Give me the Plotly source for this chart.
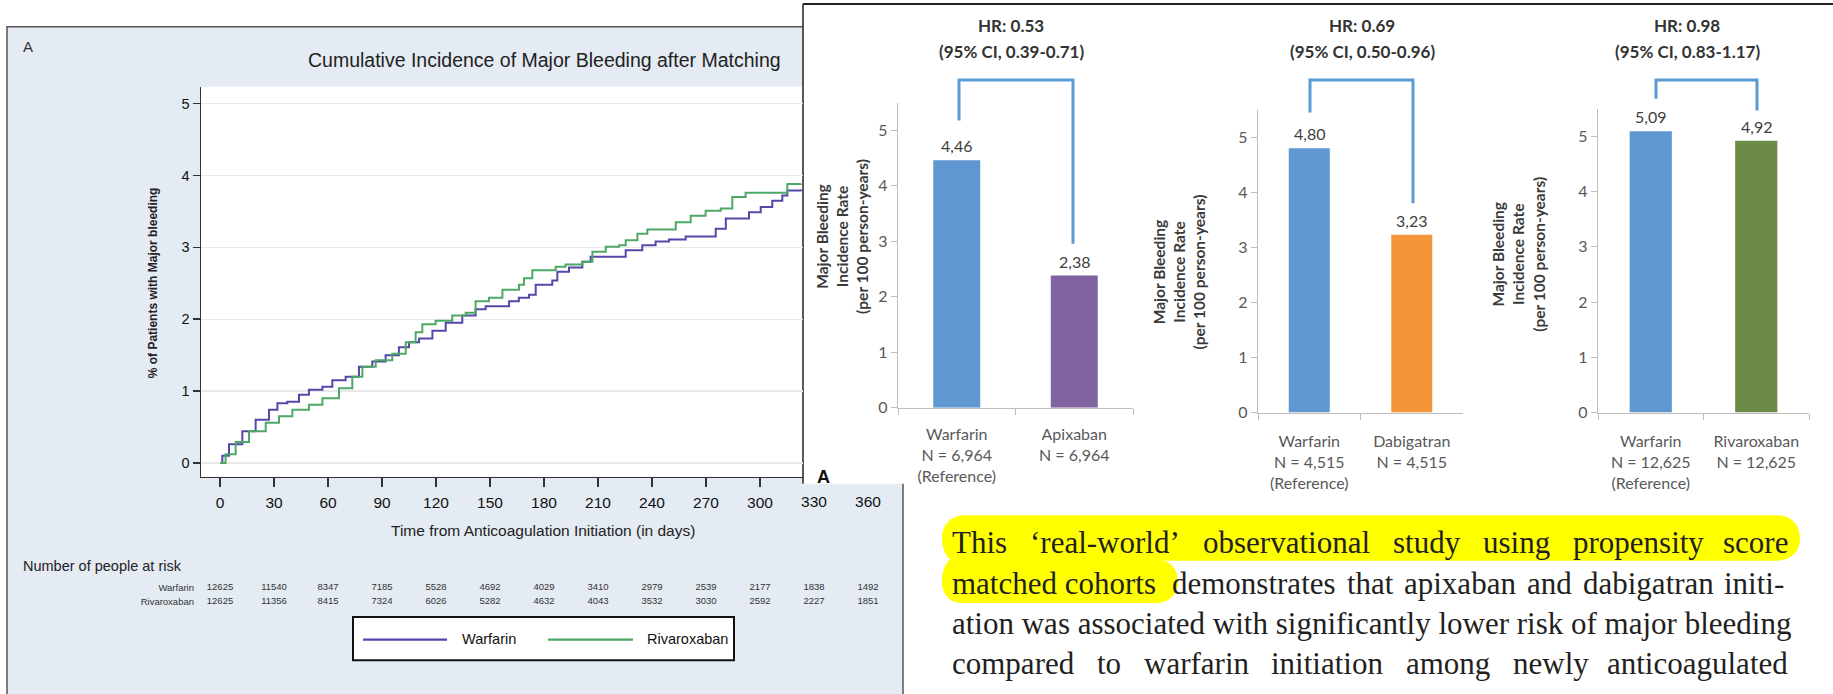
import plotly.graph_objects as go

W, H = 1833, 694
def PX(x): return x / W
def PY(y): return 1 - y / H

# ---------------- data ----------------
km_names = ["Warfarin", "Rivaroxaban"]
war_days = [0, 1.3, 5, 12.4, 19.8, 27.2, 31.9, 37.4, 43.9, 49.4, 56.9, 62.4, 69.8, 77.2, 84.6, 92, 99.4, 105,
            110.6, 118, 125.4, 134.6, 142, 147.6, 160.6, 166, 171.7, 175.4, 184.6, 187.4, 193.9, 201.3, 205.9,
            225.4, 234.6, 242, 249.4, 258.7, 275.4, 281, 293.9, 300.4, 306.8, 312.4, 315.2, 322.6]
war_pct = [0, 0.10, 0.26, 0.44, 0.60, 0.74, 0.83, 0.85, 0.95, 1.02, 1.06, 1.15, 1.20, 1.34, 1.41, 1.50, 1.61, 1.68,
           1.73, 1.84, 1.95, 2.05, 2.14, 2.18, 2.25, 2.30, 2.34, 2.48, 2.54, 2.66, 2.72, 2.80, 2.87,
           2.96, 3.03, 3.08, 3.11, 3.15, 3.26, 3.40, 3.49, 3.56, 3.65, 3.72, 3.79, 3.81]
riv_days = [0, 3.1, 8.7, 16.1, 25.4, 32.8, 40.2, 49.4, 56.9, 66.1, 73.5, 79.1, 86.5, 95.7, 103.2, 108.7, 112.4,
            119.8, 129, 136.5, 142, 149.4, 156.9, 166.1, 168.9, 173.5, 186.5, 192, 201.3, 206.9, 214.3, 221.7,
            225.4, 231.9, 237.4, 253.2, 261.5, 269.8, 278.2, 284.6, 292, 315.2, 322.6]
riv_pct = [0, 0.12, 0.29, 0.44, 0.56, 0.65, 0.74, 0.81, 0.90, 1.04, 1.20, 1.34, 1.43, 1.52, 1.68, 1.82, 1.93,
           1.98, 2.05, 2.09, 2.25, 2.30, 2.41, 2.48, 2.57, 2.68, 2.73, 2.76, 2.80, 2.94, 3.01, 3.03,
           3.10, 3.19, 3.25, 3.35, 3.44, 3.51, 3.54, 3.70, 3.76, 3.88, 3.89]
km_ticks = [0, 30, 60, 90, 120, 150, 180, 210, 240, 270, 300, 330, 360]
risk_war = [12625, 11540, 8347, 7185, 5528, 4692, 4029, 3410, 2979, 2539, 2177, 1838, 1492]
risk_riv = [12625, 11356, 8415, 7324, 6026, 5282, 4632, 4043, 3532, 3030, 2592, 2227, 1851]

bar_cats = [["Warfarin", "Apixaban"], ["Warfarin", "Dabigatran"], ["Warfarin", "Rivaroxaban"]]
bar_vals = [[4.46, 2.38], [4.80, 3.23], [5.09, 4.92]]
bar_n = [["6,964", "6,964"], ["4,515", "4,515"], ["12,625", "12,625"]]
hr_text = ["HR: 0.53", "HR: 0.69", "HR: 0.98"]
ci_text = ["(95% CI, 0.39-0.71)", "(95% CI, 0.50-0.96)", "(95% CI, 0.83-1.17)"]

para_l1 = ["This", "\u2018real-world\u2019", "observational", "study", "using", "propensity", "score"]
para_l2a = "matched cohorts"
para_l2b = ["demonstrates", "that", "apixaban", "and", "dabigatran", "initi-"]
para_l3 = "ation was associated with significantly lower risk of major bleeding"
para_l4 = ["compared", "to", "warfarin", "initiation", "among", "newly", "anticoagulated"]

# ---------------- style ----------------
C_WAR_KM = "#5447aa"
C_RIV_KM = "#4da865"
C_BLUE = "#5f97d0"
BAR_COLORS = [[C_BLUE, "#8064a2"], [C_BLUE, "#f39538"], [C_BLUE, "#6e8a48"]]
PANEL_BG = "#e4ebf3"
SANS = "Liberation Sans, Arial, sans-serif"
LATO = "Lato, Liberation Sans, sans-serif"
SERIF = "Liberation Serif, Times New Roman, serif"

fig = go.Figure()

# KM traces
fig.add_trace(go.Scatter(x=war_days, y=war_pct, mode="lines", line=dict(shape="hv", color=C_WAR_KM, width=2),
                         name=km_names[0], xaxis="x", yaxis="y", showlegend=False))
fig.add_trace(go.Scatter(x=riv_days, y=riv_pct, mode="lines", line=dict(shape="hv", color=C_RIV_KM, width=2),
                         name=km_names[1], xaxis="x", yaxis="y", showlegend=False))
# at-risk table
for nm, row in [(km_names[0], risk_war), (km_names[1], risk_riv)]:
    fig.add_trace(go.Scatter(x=km_ticks, y=[nm] * len(row), mode="text", text=[str(v) for v in row],
                             textfont=dict(family=SANS, size=9.5, color="#333"),
                             xaxis="x5", yaxis="y5", showlegend=False, hoverinfo="skip"))

# KM axes geometry (pixels)
KM_L, KM_R_VIS, KM_R_FULL, KM_T, KM_B = 201, 803, 890, 88, 483
X0_PX, PX_PER_DAY = 220, 1.8
Y0_PX, PX_PER_PCT = 469, 72.8

fig.update_layout(
    xaxis=dict(domain=[PX(KM_L), PX(KM_R_VIS)],
               range=[(KM_L - X0_PX) / PX_PER_DAY, (KM_R_VIS - X0_PX) / PX_PER_DAY],
               tickvals=[t for t in km_ticks if t <= 300], ticks="outside", ticklen=9, tickwidth=1.5,
               tickcolor="#333", showline=True, linecolor="#333", linewidth=1.5, showgrid=False,
               zeroline=False, tickfont=dict(family=SANS, size=15.5, color="#111"), anchor="y",
               ticklabelstandoff=2),
    yaxis=dict(domain=[PY(KM_B), PY(KM_T)],
               range=[(Y0_PX - KM_B) / PX_PER_PCT, (Y0_PX - KM_T) / PX_PER_PCT],
               tickvals=[0, 1, 2, 3, 4, 5], ticks="outside", ticklen=7, tickwidth=1.5, tickcolor="#333",
               showline=True, linecolor="#333", linewidth=1.5, showgrid=True, gridcolor="#e9e9e9",
               gridwidth=1.2, zeroline=False, tickfont=dict(family=SANS, size=14.5, color="#111"), anchor="x"),
    xaxis5=dict(domain=[PX(KM_L), PX(KM_R_FULL)],
                range=[(KM_L - X0_PX) / PX_PER_DAY, (KM_R_FULL - X0_PX) / PX_PER_DAY],
                tickvals=[t for t in km_ticks if t > 300], ticks="outside", ticklen=9,
                tickcolor="rgba(0,0,0,0)", showline=False, showgrid=False, zeroline=False,
                tickfont=dict(family=SANS, size=15.5, color="#111"), anchor="free", position=PY(KM_B),
                ticklabelstandoff=2),
    yaxis5=dict(domain=[PY(616), PY(589)], type="category", categoryarray=[km_names[1], km_names[0]],
                range=[-0.5, 1.5], showline=False, ticks="", showgrid=False, zeroline=False,
                tickfont=dict(family=SANS, size=9.5, color="#333"), anchor="free", position=PX(194)),
)

# Bar charts
bar_geom = [  # (x_left, x_right, y_zero_px, px_per_unit)
    (898, 1133, 413, 56.2),
    (1258, 1463, 418, 55.8),
    (1598, 1809, 418, 56.0),
]
YMAX = 5.5
for i in range(3):
    k = i + 2
    xl, xr, y0, s = bar_geom[i]
    ticktext = []
    for j, c in enumerate(bar_cats[i]):
        t = f"{c}<br>N = {bar_n[i][j]}"
        if j == 0:
            t += "<br>(Reference)"
        ticktext.append(t)
    fig.add_trace(go.Bar(x=bar_cats[i], y=bar_vals[i], marker=dict(color=BAR_COLORS[i], line=dict(width=0)),
                         xaxis=f"x{k}", yaxis=f"y{k}", showlegend=False))
    fig.layout[f"xaxis{k}"] = dict(domain=[PX(xl), PX(xr)], anchor=f"y{k}", showline=True, linecolor="#bdbdbd",
                                   linewidth=1.3, ticks="outside", ticklen=6, tickcolor="#bdbdbd",
                                   tickson="boundaries", tickvals=bar_cats[i], ticktext=ticktext,
                                   tickfont=dict(family=LATO, size=16, color="#595959"),
                                   ticklabelstandoff=12 if i == 0 else 14, showgrid=False, zeroline=False)
    fig.layout[f"yaxis{k}"] = dict(domain=[PY(y0), PY(y0 - YMAX * s)], range=[0, YMAX], anchor=f"x{k}",
                                   showline=True, linecolor="#bdbdbd", linewidth=1.3, ticks="outside",
                                   ticklen=6, tickcolor="#bdbdbd", tickvals=[0, 1, 2, 3, 4, 5],
                                   tickfont=dict(family=LATO, size=16, color="#595959"), showgrid=False,
                                   zeroline=False)

ann = []
def A(x, y, text, size, color="#222", family=SANS, xa="center", ya="middle", angle=0, **kw):
    d = dict(x=PX(x), y=PY(y), xref="paper", yref="paper", text=text, showarrow=False,
             font=dict(family=family, size=size, color=color), xanchor=xa, yanchor=ya, textangle=angle)
    d.update(kw)
    ann.append(d)

# bar value labels (data-referenced)
for i in range(3):
    k = i + 2
    for c, v in zip(bar_cats[i], bar_vals[i]):
        ann.append(dict(x=c, y=v, xref=f"x{k}", yref=f"y{k}", text=f"{v:.2f}".replace(".", ","),
                        showarrow=False, yanchor="bottom", yshift=3,
                        font=dict(family=LATO, size=16, color="#404040")))

# HR headers
hr_cx = [1011, 1362, 1687]
for i in range(3):
    A(hr_cx[i], 26, f"<b>{hr_text[i]}</b>", 17, "#333", LATO)
    A(hr_cx[i], 52, f"<b>{ci_text[i]}</b>", 17, "#333", LATO)

# bar y titles
ytitle = "<b>Major Bleeding<br>Incidence Rate<br>(per 100 person-years)</b>"
for cx, cy in [(842, 240), (1179, 276), (1518, 258)]:
    A(cx, cy, ytitle, 15.5, "#3a3a3a", LATO, angle=-90)

# KM texts
A(28, 47, "A", 15, "#333", SANS)
A(544, 61, "Cumulative Incidence of Major Bleeding after Matching", 19.5, "#222", SANS)
A(153, 287, "<b>% of Patients with Major bleeding</b>", 12, "#222", SANS, angle=-90)
A(543, 537, "Time from Anticoagulation Initiation (in days)", 15.5, "#222", SANS)
A(21, 573, "Number of people at risk", 14.5, "#222", SANS, xa="left")
A(460, 647, km_names[0], 14.5, "#111", SANS, xa="left")
A(645, 647, km_names[1], 14.5, "#111", SANS, xa="left")
A(823, 483, "<b>A</b>", 18, "#111", SANS)

# paragraph (justified by per-word placement)
PSIZE = 31
PCOL = "#231f20"
base = [550, 591, 632, 672]
l1_x = [950, 1028, 1201, 1391, 1481, 1571]
for w, x in zip(para_l1[:-1], l1_x):
    A(x, base[0], w, PSIZE, PCOL, SERIF, xa="left")
A(1790, base[0], para_l1[-1], PSIZE, PCOL, SERIF, xa="right")
A(950, base[1], para_l2a, PSIZE, PCOL, SERIF, xa="left")
l2_x = [1170, 1345, 1402, 1525, 1581]
for w, x in zip(para_l2b[:-1], l2_x):
    A(x, base[1], w, PSIZE, PCOL, SERIF, xa="left")
A(1786, base[1], para_l2b[-1], PSIZE, PCOL, SERIF, xa="right")
A(950, base[2], para_l3, PSIZE, PCOL, SERIF, xa="left")
l4_x = [950, 1095, 1142, 1269, 1404, 1511]
for w, x in zip(para_l4[:-1], l4_x):
    A(x, base[3], w, PSIZE, PCOL, SERIF, xa="left")
A(1790, base[3], para_l4[-1], PSIZE, PCOL, SERIF, xa="right")

# ---------------- shapes ----------------
shapes = []
def rect(x0, y0, x1, y1, fill, line_color=None, lw=0, layer="below"):
    shapes.append(dict(type="rect", xref="paper", yref="paper", x0=PX(x0), x1=PX(x1), y0=PY(y1), y1=PY(y0),
                       fillcolor=fill, line=dict(color=line_color or fill, width=lw), layer=layer))
def seg(x0, y0, x1, y1, color, w, layer="below"):
    shapes.append(dict(type="line", xref="paper", yref="paper", x0=PX(x0), x1=PX(x1), y0=PY(y0), y1=PY(y1),
                       line=dict(color=color, width=w), layer=layer))
def path(pts_cmds, fill=None, color="#000", w=0, layer="below"):
    s = ""
    for cmd, pts in pts_cmds:
        s += cmd + " ".join(f"{PX(x):.5f},{PY(y):.5f}" for x, y in pts) + " "
    d = dict(type="path", xref="paper", yref="paper", path=s.strip(), layer=layer,
             line=dict(color=color, width=w))
    if fill:
        d["fillcolor"] = fill
    shapes.append(d)

# left panel
rect(7, 27, 903, 720, PANEL_BG, "#555", 1.5)
rect(KM_L, KM_T, KM_R_VIS, KM_B, "white")
# legend box
rect(353, 625, 734, 669, "white", "#111", 2)
seg(363, 648, 447, 648, C_WAR_KM, 2.2)
seg(548, 648, 633, 648, C_RIV_KM, 2.2)
# overlay panel
rect(803, 4, 1845, 490, "white")
seg(803, 4, 1840, 4, "#222", 2)
seg(803, 4, 803, 490, "#222", 1.5)
# highlight (two merged rounded bands)
T1, M1, B2 = 522, 568, 611
path([("M", [(965, T1)]), ("L", [(1776, T1)]),
      ("C", [(1794, T1), (1800, T1 + 13), (1800, (T1 + M1) / 2)]),
      ("C", [(1800, M1 - 12), (1794, M1), (1776, M1)]),
      ("L", [(1160, M1)]),
      ("C", [(1172, M1), (1178, M1 + 10), (1178, (M1 + B2) / 2)]),
      ("C", [(1178, B2 - 10), (1170, B2), (1156, B2)]),
      ("L", [(962, B2)]),
      ("C", [(949, B2), (942, B2 - 10), (942, (M1 + B2) / 2)]),
      ("C", [(942, M1 + 10), (945, M1 + 3), (950, M1 - 1)]),
      ("C", [(945, M1 - 6), (942, M1 - 13), (942, (T1 + M1) / 2)]),
      ("C", [(942, T1 + 11), (950, T1), (965, T1)]), ("Z", [])],
     fill="#ffff00", color="#ffff00", w=0)
# HR brackets
for (xa, ya, xb, yb) in [(959, 122, 1073, 247), (1310, 114, 1413, 206), (1656, 100, 1757, 112)]:
    path([("M", [(xa, ya)]), ("L", [(xa, 81)]), ("L", [(xb, 81)]), ("L", [(xb, yb)])],
         color="#5b9bd5", w=3, layer="above")

fig.update_layout(width=W, height=H, margin=dict(l=0, r=0, t=0, b=0), paper_bgcolor="white",
                  plot_bgcolor="rgba(0,0,0,0)", bargap=0.6, showlegend=False,
                  annotations=ann, shapes=shapes)

fig.write_html("out.html", config={"displayModeBar": False, "staticPlot": True},
               post_script="document.body.style.margin='0';document.body.style.padding='0';"
                           "document.body.style.overflow='hidden';")
